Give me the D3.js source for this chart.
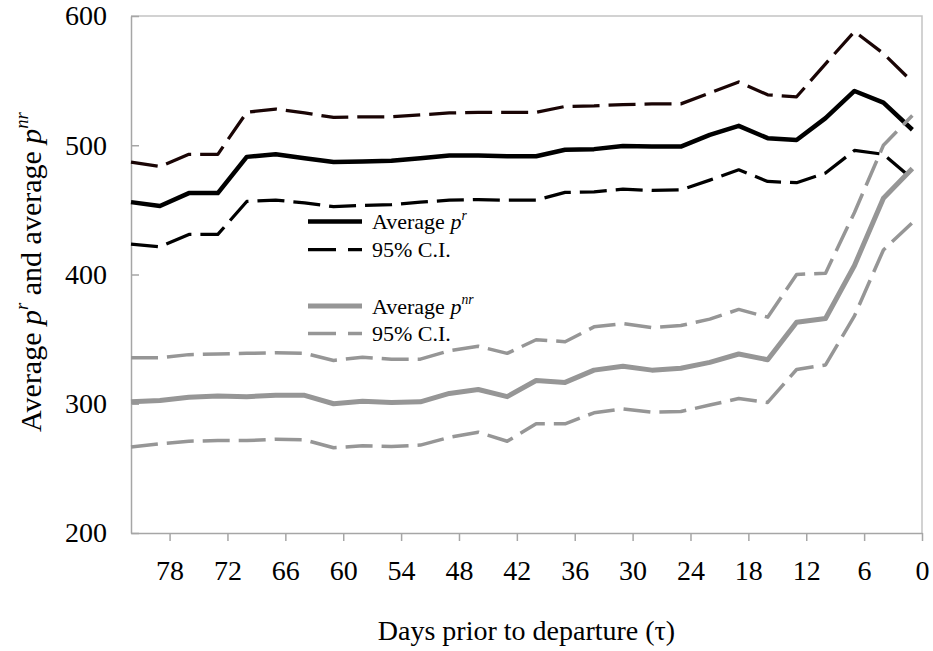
<!DOCTYPE html>
<html>
<head>
<meta charset="utf-8">
<script src="https://cdn.jsdelivr.net/npm/d3@7"></script>
<style>
	body { margin: 0; background: #fff; }
	svg text { font-family: "Liberation Serif", "Times New Roman", serif; fill: #000; }
	.axis path, .axis line { stroke: #a6a6a6; stroke-width: 1.5; }
</style>
</head>
<body>
<svg id="chart"></svg>
<script>
// Days prior to departure, one point every 3 days.
var days = [82, 79, 76, 73, 70, 67, 64, 61, 58, 55, 52, 49, 46, 43, 40, 37, 34, 31, 28, 25, 22, 19, 16, 13, 10, 7, 4, 1];

// Average p^r with its 95% C.I.
var avgR = [456, 453, 463, 463, 491, 493, 490, 487, 487.5, 488, 490, 492, 492, 491.5, 491.5, 496.5, 497, 499.5, 499, 499, 508, 515, 505.5, 504, 521, 542, 533, 512];
var upperR = [487, 483.5, 493, 493, 525.5, 528, 525, 521.5, 522, 522, 523.5, 525, 525.5, 525.5, 525.5, 530, 530.5, 531.5, 532, 532, 540.5, 549, 539, 537.5, 563, 588, 571, 549];
var lowerR = [423.5, 421.5, 431, 431, 456.5, 457.5, 455.5, 452.5, 453.5, 454, 456, 457.5, 458, 457.5, 457.5, 463.5, 464, 466, 465, 465.5, 473, 481, 472, 471, 478.5, 496, 493, 474];

// Average p^nr with its 95% C.I.
var avgNR = [301.5, 302.5, 305, 306, 305.5, 306.5, 306.5, 300, 302, 301, 301.5, 308, 311, 305.5, 318, 316.5, 326, 329, 326, 327.5, 332, 338.5, 334, 363, 366, 407, 459, 482];
var upperNR = [335.5, 335.5, 338, 338.5, 339, 339.5, 339, 333.5, 336, 334.5, 334.5, 341, 344.5, 339, 349.5, 348, 359.5, 362, 359, 360.5, 365.5, 373, 367, 400, 401, 448, 500, 523];
var lowerNR = [266.5, 269, 271, 271.5, 271.5, 272.5, 272, 266, 267.5, 267, 268, 274, 278, 271, 284.5, 284.5, 293, 296, 293.5, 294, 299, 304, 301, 326.5, 330, 368, 419, 440];

// Tick labels.
var xTicks = [78, 72, 66, 60, 54, 48, 42, 36, 30, 24, 18, 12, 6, 0];
var yTicks = [200, 300, 400, 500, 600];

// Definitions.
var width = 933;
var height = 651;
var plotLeft = 131;
var plotRight = 922;
var plotTop = 16;
var plotBottom = 533;
var black = "#000000";
var grey = "#969696";
var dash = "27,9";

var svg = d3.select("#chart")
	.attr("width", width)
	.attr("height", height);

var x = d3.scaleLinear().domain([82, 0]).range([plotLeft, plotRight]);
var y = d3.scaleLinear().domain([200, 600]).range([plotBottom, plotTop]);

// Plot area frame (top and right edges).
svg.append("path")
	.attr("d", "M" + plotLeft + "," + plotTop + "H" + plotRight + "V" + plotBottom)
	.attr("fill", "none")
	.attr("stroke", "#c3c3c3")
	.attr("stroke-width", 1.5);

// Axes.
var xAxis = svg.append("g")
	.attr("class", "axis")
	.attr("transform", "translate(0," + plotBottom + ")")
	.call(d3.axisBottom(x).tickValues(xTicks).tickSizeInner(8).tickSizeOuter(0).tickPadding(19));
xAxis.selectAll("text").style("font-size", "28px");

var yAxis = svg.append("g")
	.attr("class", "axis")
	.attr("transform", "translate(" + plotLeft + ",0)")
	.call(d3.axisLeft(y).tickValues(yTicks).tickSizeInner(-8).tickSizeOuter(0).tickPadding(24));
yAxis.selectAll("text").style("font-size", "28px");

// Series.
var series = [
	{ values: upperR, color: "#1a0505", width: 3.25, dash: dash },
	{ values: lowerR, color: black, width: 3.25, dash: dash },
	{ values: avgR, color: black, width: 4.5, dash: null },
	{ values: upperNR, color: grey, width: 3.5, dash: dash },
	{ values: lowerNR, color: grey, width: 3.5, dash: dash },
	{ values: avgNR, color: grey, width: 5, dash: null }
];

var line = d3.line()
	.x(function(d, i) { return x(days[i]); })
	.y(function(d) { return y(d); });

svg.selectAll(".series")
	.data(series)
	.enter()
	.append("path")
	.attr("class", "series")
	.attr("d", function(d) { return line(d.values); })
	.attr("fill", "none")
	.attr("stroke", function(d) { return d.color; })
	.attr("stroke-width", function(d) { return d.width; })
	.attr("stroke-dasharray", function(d) { return d.dash; })
	.attr("stroke-linejoin", "round");

// Writes "label p^sup" into a text element, with an italic p and superscript.
function writeAverage(textSel, label, sup, size)
{
	textSel.append("tspan").text(label);
	textSel.append("tspan").style("font-style", "italic").text("p");
	textSel.append("tspan")
		.style("font-style", "italic")
		.style("font-size", (size * 0.62) + "px")
		.attr("dy", -size * 0.42)
		.text(sup);
}

// Legend.
var legendItems = [
	{ sup: "r", color: black, width: 4.5, dash: null, y: 221.5 },
	{ sup: null, color: black, width: 3.25, dash: "28,12", y: 249.5 },
	{ sup: "nr", color: grey, width: 5, dash: null, y: 306 },
	{ sup: null, color: grey, width: 3.5, dash: "28,12", y: 333.5 }
];
var legend = svg.append("g");
legendItems.forEach(function(item)
{
	legend.append("line")
		.attr("x1", 308)
		.attr("x2", 362)
		.attr("y1", item.y)
		.attr("y2", item.y)
		.attr("stroke", item.color)
		.attr("stroke-width", item.width)
		.attr("stroke-dasharray", item.dash);
	var t = legend.append("text")
		.attr("x", 372)
		.attr("y", item.y + 7.5)
		.style("font-size", "22px");
	if (item.sup) { writeAverage(t, "Average ", item.sup, 22); }
	else { t.text("95% C.I."); }
});

// Axis titles.
svg.append("text")
	.attr("x", (plotLeft + plotRight) / 2)
	.attr("y", 640)
	.attr("text-anchor", "middle")
	.style("font-size", "28px")
	.text("Days prior to departure (\u03c4)");

var yTitle = svg.append("text")
	.attr("transform", "translate(41,272) rotate(-90)")
	.attr("text-anchor", "middle")
	.style("font-size", "30px");
writeAverage(yTitle, "Average ", "r", 30);
yTitle.append("tspan").attr("dy", 30 * 0.42).text(" and average ");
writeAverage(yTitle, "", "nr", 30);
</script>
</body>
</html>
